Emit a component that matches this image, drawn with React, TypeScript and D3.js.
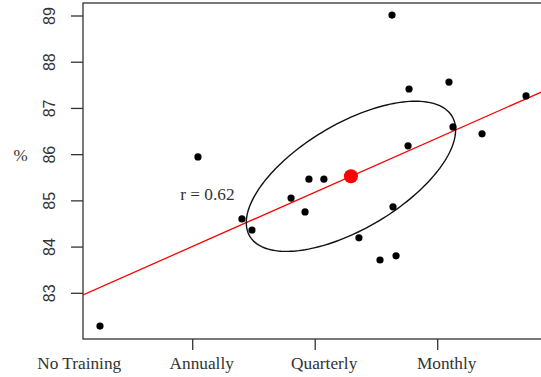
import React from "react";
import * as d3 from "d3";

const categories = ["No Training", "Annually", "Quarterly", "Monthly"];
const trainingX = [0.243, 1.043, 1.402, 1.484, 1.803, 1.917, 1.949, 2.071, 2.357, 2.529, 2.66, 2.635, 2.627, 2.758, 2.766, 3.092, 3.125, 3.362, 3.721];
const pctY = [82.29, 85.95, 84.61, 84.37, 85.06, 84.76, 85.47, 85.47, 84.2, 83.72, 83.81, 84.87, 89.02, 86.19, 87.42, 87.57, 86.6, 86.45, 87.27];
const yTicks = [83, 84, 85, 86, 87, 88, 89];
const yLabel = "%";

const W = 541;
const H = 377;
const plot = { left: 83, top: 3, right: 570, bottom: 339 };

export default function App() {
  const x = d3.scaleLinear().domain([0, 3]).range([70.2, 437.7]);
  const y = d3.scaleLinear().domain([83, 89]).range([293.3, 16]);

  const n = trainingX.length;
  const mx = d3.mean(trainingX) as number;
  const my = d3.mean(pctY) as number;
  let sxx = 0, syy = 0, sxy = 0;
  for (let i = 0; i < n; i++) {
    const dx = trainingX[i] - mx;
    const dy = pctY[i] - my;
    sxx += dx * dx;
    syy += dy * dy;
    sxy += dx * dy;
  }
  const slope = sxy / sxx;
  const intercept = my - slope * mx;
  const r = sxy / Math.sqrt(sxx * syy);
  const vxx = sxx / (n - 1), vyy = syy / (n - 1), vxy = sxy / (n - 1);
  // Cholesky
  const a = Math.sqrt(vxx);
  const b = vxy / a;
  const c = Math.sqrt(vyy - b * b);
  const radius = 1;
  const ellPts: [number, number][] = d3.range(0, 361, 2).map((deg) => {
    const t = (deg * Math.PI) / 180;
    const u = Math.cos(t), v = Math.sin(t);
    return [x(mx + radius * a * u), y(my + radius * (b * u + c * v))];
  });
  const ellPath = d3.line()(ellPts) as string;

  const x0 = x.invert(plot.left), x1 = x.invert(plot.right);
  const fontSerif = "'Liberation Serif', 'Times New Roman', serif";
  const fontSans = "'Liberation Sans', Arial, sans-serif";
  const ink = "#333";

  return (
    <svg width={W} height={H} style={{ position: "fixed", left: 0, top: 0, background: "#fff" }}>
      <defs>
        <clipPath id="plotClip">
          <rect x={plot.left} y={plot.top} width={plot.right - plot.left} height={plot.bottom - plot.top} />
        </clipPath>
      </defs>
      <rect x={0} y={0} width={W} height={H} fill="#fff" />
      <g clipPath="url(#plotClip)">
        <line x1={x(x0)} y1={y(intercept + slope * x0)} x2={x(x1)} y2={y(intercept + slope * x1)} stroke="#ff0000" strokeWidth={1.3} />
        <path d={ellPath} fill="none" stroke="#111" strokeWidth={1.4} />
        {trainingX.map((xv, i) => (
          <circle key={i} cx={x(xv)} cy={y(pctY[i])} r={3.6} fill="#000" />
        ))}
        <circle cx={x(mx)} cy={y(my)} r={7} fill="#ff0000" />
      </g>
      <rect x={plot.left} y={plot.top} width={plot.right - plot.left} height={plot.bottom - plot.top} fill="none" stroke={ink} strokeWidth={1.3} />
      {yTicks.map((t) => (
        <g key={t}>
          <line x1={plot.left - 12} x2={plot.left} y1={y(t)} y2={y(t)} stroke={ink} strokeWidth={1.3} />
          <text transform={`translate(55,${y(t)}) rotate(-90)`} textAnchor="middle" fontFamily={fontSans} fontSize={16} fill={ink}>{t}</text>
        </g>
      ))}
      {categories.map((cat, i) => (
        <g key={cat}>
          {x(i) >= plot.left && (
            <line x1={x(i)} x2={x(i)} y1={plot.bottom} y2={plot.bottom + 11} stroke={ink} strokeWidth={1.3} />
          )}
          <text x={x(i) + 9} y={369} textAnchor="middle" fontFamily={fontSerif} fontSize={17.3} fill={ink}>{cat}</text>
        </g>
      ))}
      <text x={20.5} y={161} textAnchor="middle" fontFamily={fontSerif} fontSize={17} fill={ink}>{yLabel}</text>
      <text x={x(1.12)} y={y(85.02)} textAnchor="middle" fontFamily={fontSerif} fontSize={17.3} fill={ink}>{`r = ${r.toFixed(2)}`}</text>
    </svg>
  );
}
